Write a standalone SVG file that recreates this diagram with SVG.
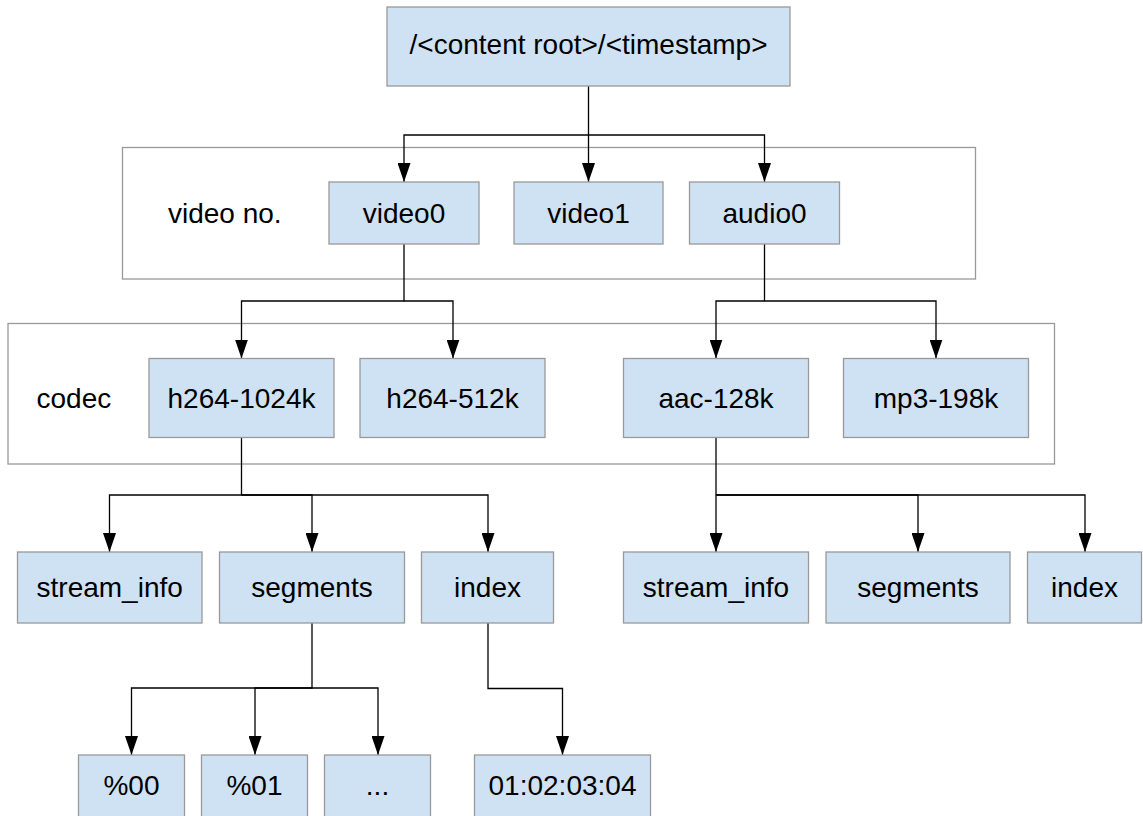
<svg xmlns="http://www.w3.org/2000/svg" width="1143" height="816" viewBox="0 0 1143 816">
  <style>
    .box { fill: #cfe2f3; stroke: #999999; stroke-width: 1.3; }
    .group { fill: none; stroke: #999999; stroke-width: 1.3; }
    .lbl { font-family: "Liberation Sans", Arial, sans-serif; font-size: 28px; fill: #000000; text-anchor: middle; }
    .side { font-family: "Liberation Sans", Arial, sans-serif; font-size: 28px; fill: #000000; }
    .conn path { fill: none; stroke: #000000; stroke-width: 1.3; }
    .conn path.arr { marker-end: url(#ah); }
  </style>
  <defs>
    <marker id="ah" viewBox="0 0 19 13" refX="19" refY="6.5" markerWidth="19" markerHeight="13" orient="auto" markerUnits="userSpaceOnUse">
      <path d="M0,0 L19,6.5 L0,13 z" fill="#000000"/>
    </marker>
  </defs>
  <rect width="1143" height="816" fill="#ffffff"/>

  <!-- grouping frames -->
  <g id="video-group">
    <rect class="group" x="122.5" y="147.5" width="853" height="131.5"/>
    <text class="side" x="168" y="223">video no.</text>
  </g>
  <g id="codec-group">
    <rect class="group" x="8" y="323.5" width="1046.5" height="140.5"/>
    <text class="side" x="36.5" y="408">codec</text>
  </g>

  <!-- connectors -->
  <g id="connectors" class="conn">
    <path class="arr" d="M588.5,86 V135 H404 V182"/>
    <path class="arr" d="M588.5,135 V182"/>
    <path class="arr" d="M588.5,135 H764.5 V182"/>

    <path class="arr" d="M404,244 V301 H241.5 V358.5"/>
    <path class="arr" d="M404,301 H453 V358.5"/>
    <path class="arr" d="M764.5,244 V301 H716 V358.5"/>
    <path class="arr" d="M764.5,301 H936 V358.5"/>

    <path class="arr" d="M241.5,437.5 V495 H109.5 V552"/>
    <path class="arr" d="M241.5,495 H312 V552"/>
    <path class="arr" d="M241.5,495 H488 V552"/>
    <path class="arr" d="M716,437.5 V552"/>
    <path class="arr" d="M716,495 H918 V552"/>
    <path class="arr" d="M716,495 H1085 V552"/>

    <path class="arr" d="M312,623 V688 H131.5 V755"/>
    <path class="arr" d="M312,688 H255 V755"/>
    <path class="arr" d="M312,688 H378 V755"/>
    <path class="arr" d="M488,623 V688.5 H562.5 V755"/>
  </g>

  <!-- root -->
  <g id="root">
    <rect class="box" x="387" y="7" width="403" height="79"/>
    <text class="lbl" x="588.5" y="54">/&lt;content root&gt;/&lt;timestamp&gt;</text>
  </g>

  <!-- video numbers -->
  <g id="video0">
    <rect class="box" x="329" y="182" width="150" height="62"/>
    <text class="lbl" x="404" y="223">video0</text>
  </g>
  <g id="video1">
    <rect class="box" x="514" y="182" width="149" height="62"/>
    <text class="lbl" x="588.5" y="223">video1</text>
  </g>
  <g id="audio0">
    <rect class="box" x="689.5" y="182" width="150" height="62"/>
    <text class="lbl" x="764.5" y="223">audio0</text>
  </g>

  <!-- codecs -->
  <g id="h264-1024k">
    <rect class="box" x="149" y="358.5" width="185" height="79"/>
    <text class="lbl" x="241.5" y="408">h264-1024k</text>
  </g>
  <g id="h264-512k">
    <rect class="box" x="360" y="358.5" width="185" height="79"/>
    <text class="lbl" x="452.5" y="408">h264-512k</text>
  </g>
  <g id="aac-128k">
    <rect class="box" x="623.5" y="358.5" width="185" height="79"/>
    <text class="lbl" x="716" y="408">aac-128k</text>
  </g>
  <g id="mp3-198k">
    <rect class="box" x="843.5" y="358.5" width="185" height="79"/>
    <text class="lbl" x="936" y="408">mp3-198k</text>
  </g>

  <!-- per-codec contents -->
  <g id="v-stream-info">
    <rect class="box" x="17.5" y="552" width="184.5" height="71"/>
    <text class="lbl" x="109.7" y="597">stream_info</text>
  </g>
  <g id="v-segments">
    <rect class="box" x="219.5" y="552" width="185" height="71"/>
    <text class="lbl" x="312" y="597">segments</text>
  </g>
  <g id="v-index">
    <rect class="box" x="421.5" y="552" width="132" height="71"/>
    <text class="lbl" x="487.5" y="597">index</text>
  </g>
  <g id="a-stream-info">
    <rect class="box" x="623.5" y="552" width="185" height="71"/>
    <text class="lbl" x="716" y="597">stream_info</text>
  </g>
  <g id="a-segments">
    <rect class="box" x="826" y="552" width="184" height="71"/>
    <text class="lbl" x="918" y="597">segments</text>
  </g>
  <g id="a-index">
    <rect class="box" x="1027.5" y="552" width="114" height="71"/>
    <text class="lbl" x="1084.5" y="597">index</text>
  </g>

  <!-- segment files and index entry -->
  <g id="seg-00">
    <rect class="box" x="78.5" y="755" width="106" height="62"/>
    <text class="lbl" x="131.5" y="795">%00</text>
  </g>
  <g id="seg-01">
    <rect class="box" x="201.5" y="755" width="106" height="62"/>
    <text class="lbl" x="254.5" y="795">%01</text>
  </g>
  <g id="seg-more">
    <rect class="box" x="324.5" y="755" width="106" height="62"/>
    <text class="lbl" x="377.5" y="795">...</text>
  </g>
  <g id="index-entry">
    <rect class="box" x="474.5" y="755" width="176" height="62"/>
    <text class="lbl" x="562.5" y="795">01:02:03:04</text>
  </g>
</svg>
